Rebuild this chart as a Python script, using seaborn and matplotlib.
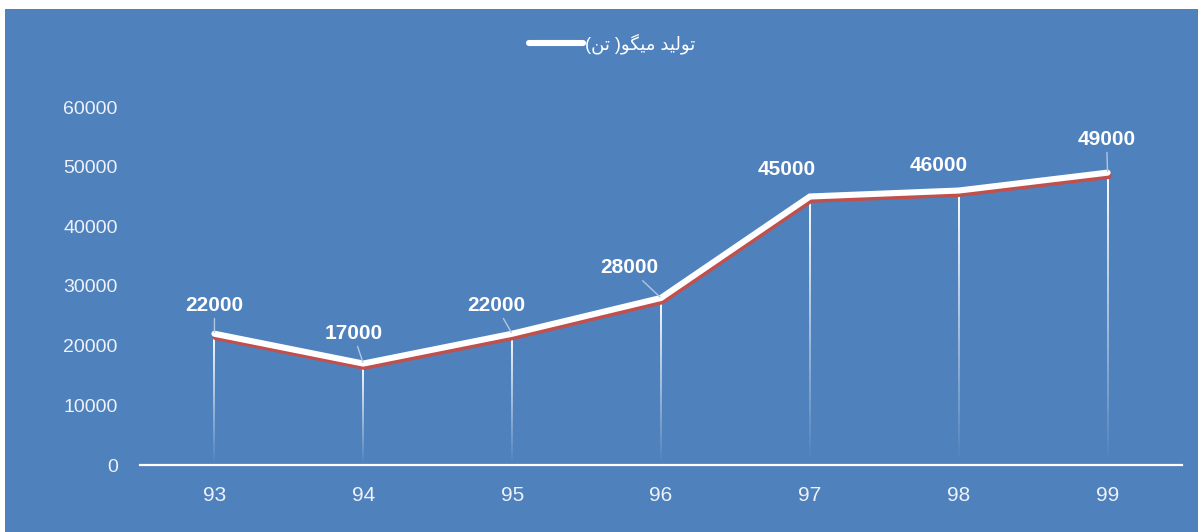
import matplotlib
matplotlib.use('Agg')
import matplotlib.pyplot as plt
import matplotlib.patheffects as pe
from matplotlib.collections import LineCollection
from matplotlib.lines import Line2D
from matplotlib.patches import Rectangle
import numpy as np
import pandas as pd
import seaborn as sns

# data
years = ['93', '94', '95', '96', '97', '98', '99']
production = [22000, 17000, 22000, 28000, 45000, 46000, 49000]
series_name = 'تولید میگو( تن)'

# where the data labels sit relative to their point (pixels) and which get a leader line
label_offsets = [(0, 28), (-10, 30), (-16, 28), (-32, 30), (-23, 27), (-20, 25), (-1, 33)]
leader_idx = {0, 1, 2, 3, 6}

BLUE = '#4F81BD'
RED = '#C0504D'


def shape_persian(text):
    # matplotlib has no text shaping / bidi, so pick presentation forms by hand
    forms = {  # isolated, final, initial, medial
        'ت': ('\uFE95', '\uFE96', '\uFE97', '\uFE98'),
        'و': ('\uFEED', '\uFEEE', None, None),
        'ل': ('\uFEDD', '\uFEDE', '\uFEDF', '\uFEE0'),
        'ی': ('\uFBFC', '\uFBFD', '\uFBFE', '\uFBFF'),
        'د': ('\uFEA9', '\uFEAA', None, None),
        'م': ('\uFEE1', '\uFEE2', '\uFEE3', '\uFEE4'),
        'گ': ('\uFB92', '\uFB93', '\uFB94', '\uFB95'),
        'ن': ('\uFEE5', '\uFEE6', '\uFEE7', '\uFEE8'),
    }
    out = []
    for i, ch in enumerate(text):
        if ch not in forms:
            out.append(ch)
            continue
        prev = text[i - 1] if i > 0 else ''
        nxt = text[i + 1] if i + 1 < len(text) else ''
        join_prev = prev in forms and forms[prev][2] is not None
        join_next = nxt in forms and forms[ch][2] is not None
        iso, fin, ini, med = forms[ch]
        if join_prev and join_next:
            out.append(med)
        elif join_prev:
            out.append(fin)
        elif join_next:
            out.append(ini)
        else:
            out.append(iso)
    mirror = {'(': ')', ')': '('}
    return ''.join(mirror.get(c, c) for c in reversed(out))


sns.set_style('white')
plt.rcParams['font.family'] = ['Liberation Sans', 'DejaVu Sans']

W, H = 1198, 532
fig = plt.figure(figsize=(W / 100, H / 100), dpi=100)
fig.patch.set_facecolor('white')
fig.add_artist(Rectangle((5 / W, 0), 1, 1 - 9 / H, transform=fig.transFigure,
                         facecolor=BLUE, edgecolor='none', zorder=-10))

ax = fig.add_axes([140 / W, 1 - 465 / H, 1042 / W, 358 / H])
ax.set_facecolor('none')

df = pd.DataFrame({'year': years, 'production': production})
sns.lineplot(data=df, x='year', y='production', ax=ax, sort=False,
             color='white', lw=4.4, zorder=5)
main_line = ax.lines[0]
main_line.set_solid_joinstyle('miter')
main_line.set_path_effects([
    pe.SimpleLineShadow(offset=(0.8, -2.4), shadow_color=RED, alpha=1.0),
    pe.Normal(),
])

# drop lines, fading out toward the axis
n_seg = 60
for i, v in enumerate(production):
    ys = np.linspace(v, 0, n_seg + 1)
    segs = [[(i, ys[k]), (i, ys[k + 1])] for k in range(n_seg)]
    alphas = np.linspace(1.0, 0.0, n_seg)
    cols = [(1, 1, 1, a) for a in alphas]
    ax.add_collection(LineCollection(segs, colors=cols, linewidths=1.4, zorder=3))

# data labels
for i, v in enumerate(production):
    dx, dy = label_offsets[i]
    arrow = None
    if i in leader_idx:
        arrow = dict(arrowstyle='-', color='#B3C6E1', lw=1.0, shrinkA=0, shrinkB=1)
    ax.annotate(f'{v}', xy=(i, v), xytext=(dx * 0.72, dy * 0.72),
                textcoords='offset points', ha='center', va='center',
                fontsize=15, fontweight='bold', color='white',
                arrowprops=arrow, zorder=6)

ax.set_xlim(-0.5, len(years) - 0.5)
ax.set_ylim(0, 60000)
ax.set_yticks(range(0, 60001, 10000))
ax.set_xlabel('')
ax.set_ylabel('')
for s in ['top', 'right', 'left']:
    ax.spines[s].set_visible(False)
ax.spines['bottom'].set_color('white')
ax.spines['bottom'].set_linewidth(1.6)
ax.tick_params(axis='y', length=0, pad=16, labelsize=14, labelcolor='#EEF2F8')
ax.tick_params(axis='x', length=0, pad=15, labelsize=15, labelcolor='#EEF2F8')
ax.grid(False)

handle = Line2D([], [], color='white', lw=4.4, solid_capstyle='round')
leg = fig.legend([handle], [shape_persian(series_name)], loc='center',
                 bbox_to_anchor=(612 / W, 1 - 44 / H), frameon=False,
                 handlelength=3.0, handletextpad=0.1,
                 prop={'family': ['Liberation Sans', 'DejaVu Sans'], 'size': 13})
for t in leg.get_texts():
    t.set_color('white')

fig.savefig('out.png', dpi=100)
